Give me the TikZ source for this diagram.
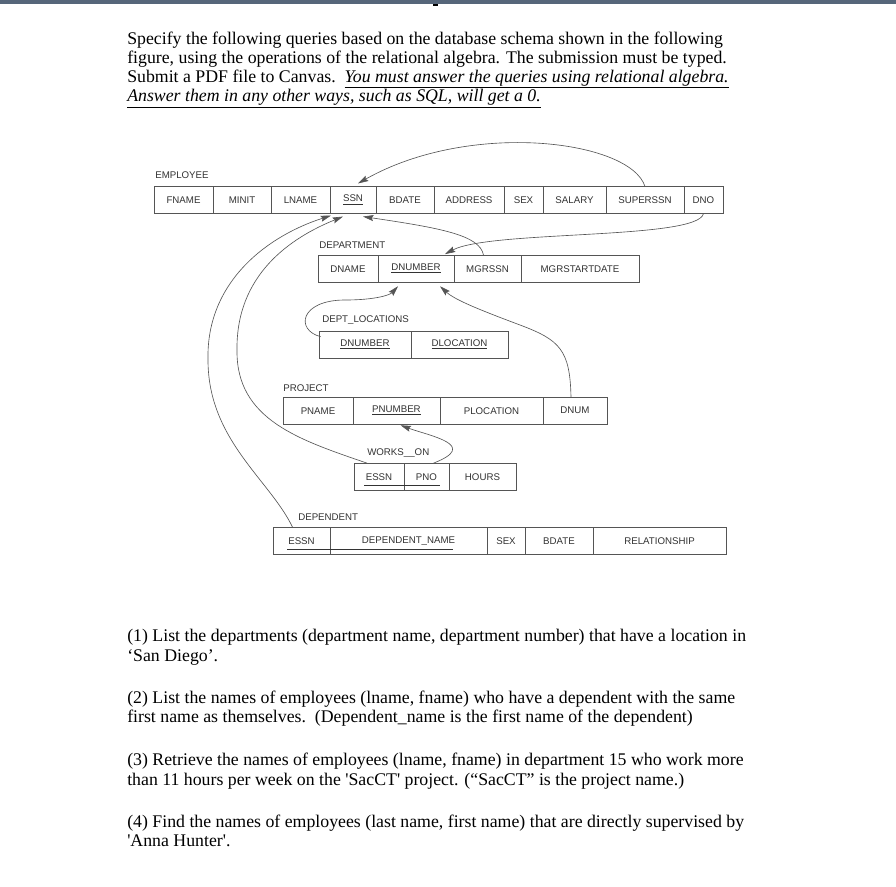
\documentclass[tikz,border=0pt]{standalone}
\usepackage{fontspec}
\setmainfont{Liberation Serif}
\newfontfamily\bodyfont{Liberation Serif}
\newfontfamily\schemafont{Liberation Sans}
\usetikzlibrary{arrows.meta, calc}
\definecolor{cbar}{HTML}{56667A}
\definecolor{cline}{HTML}{555555}
\definecolor{ctext}{HTML}{333333}
\tikzset{
  every picture/.style={x=0.25mm, y=-0.25mm},
  cell/.style={draw=cline, line width=0.5pt, minimum height=6.6mm, inner sep=0pt,
               text=ctext, font=\schemafont\fontsize{6.9}{8}\selectfont},
  relname/.style={anchor=west, inner sep=0pt, text=ctext, font=\schemafont\fontsize{6.9}{8}\selectfont},
  keyline/.style={draw=ctext, line width=0.4pt},
  fk/.style={draw=cline, line width=0.45pt, -{Stealth[length=2.6mm, width=1.5mm, inset=0.4mm]}},
  para/.style={anchor=base west, inner sep=0pt, font=\bodyfont\fontsize{12.65}{15}\selectfont},
}
\newcommand{\key}[1]{\underline{#1}}

\begin{document}
\begin{tikzpicture}
  \fill[white] (0,0) rectangle (896,887);
  \fill[cbar] (0,0) rectangle (896,4);
  \fill[black] (433,3.5) rectangle (438,6);

  % task text
  \node[para] (intro1) at (127,44) {Specify the following queries based on the database schema shown in the following};
  \node[para] (intro2) at (127,63) {figure, using the operations of the relational algebra. The submission must be typed.};
  \node[para] (intro3) at (127,82) {Submit a PDF file to Canvas.\ \ \underline{\textit{You must answer the queries using relational algebra.}}};
  \node[para] (intro4) at (127,101) {\underline{\textit{Answer them in any other ways, such as SQL, will get a 0.}}};

  % relation names
  \node[relname] (employee) at (155,175) {EMPLOYEE};
  \node[relname] (department) at (319,245) {DEPARTMENT};
  \node[relname] (deptloc) at (322,320) {DEPT\_LOCATIONS};
  \node[relname] (project) at (283,388) {PROJECT};
  \node[relname] (workson) at (367,453) {WORKS\_\_ON};
  \node[relname] (dependent) at (298,517) {DEPENDENT};

  % attribute cells: name, left, right, text
  \foreach \n/\a/\b/\t in {fname/154/213/FNAME, minit/213/271/MINIT, lname/271/330/LNAME,
      ssn/330/376/\key{SSN}, bdate/376/434/BDATE, address/434/504/ADDRESS, sex/504/543/SEX,
      salary/543/606/SALARY, superssn/606/684/SUPERSSN, dno/684/723/DNO}
    \node[cell, minimum width={(\b-\a)*0.25mm}] (e-\n) at ({(\a+\b)/2},200) {\t};
  \foreach \n/\a/\b/\t in {dname/318/378/DNAME, dnumber/378/454/\key{DNUMBER},
      mgrssn/454/521/MGRSSN, mgrstartdate/521/639/MGRSTARTDATE}
    \node[cell, minimum width={(\b-\a)*0.25mm}] (d-\n) at ({(\a+\b)/2},268.7) {\t};
  \foreach \n/\a/\b/\t in {dnumber/319/411/\key{DNUMBER}, dlocation/411/508/\key{DLOCATION}}
    \node[cell, minimum width={(\b-\a)*0.25mm}] (l-\n) at ({(\a+\b)/2},344.7) {\t};
  \foreach \n/\a/\b/\t in {pname/283/353/PNAME, pnumber/353/440/\key{PNUMBER},
      plocation/440/543/PLOCATION, dnum/543/607/DNUM}
    \node[cell, minimum width={(\b-\a)*0.25mm}] (p-\n) at ({(\a+\b)/2},410.7) {\t};
  \foreach \n/\a/\b/\t in {essn/354/404/ESSN, pno/404/449/PNO, hours/449/516/HOURS}
    \node[cell, minimum width={(\b-\a)*0.25mm}] (w-\n) at ({(\a+\b)/2},476.7) {\t};
  \foreach \n/\a/\b/\t in {essn/273/330/ESSN, depname/330/487/DEPENDENT\_NAME, sex/487/525/SEX,
      bdate/525/593/BDATE, relationship/593/726/RELATIONSHIP}
    \node[cell, minimum width={(\b-\a)*0.25mm}] (dp-\n) at ({(\a+\b)/2},540.7) {\t};

  % composite keys
  \draw[keyline] (364,485.5) -- (440,485.5);
  \draw[keyline] (287,549.5) -- (453,549.5);

  % foreign keys
  \draw[fk] (e-superssn.north) .. controls (630,140) and (470,120) .. ($(e-ssn.north)+(5,-3)$);
  \draw[fk] (e-dno.south) .. controls (698,240) and (490,230) .. ($(d-dnumber.north)+(29,-1)$);
  \draw[fk] ($(d-mgrssn.north)+(-4,0)$) .. controls (480,235) and (440,228) .. ($(e-ssn.south)+(10,3)$);
  \draw[fk] ($(w-essn.north)+(-12,0)$) .. controls (300,440) and (236,420) .. (237,350)
    .. controls (236,275) and (290,238) .. ($(e-ssn.south)+(-10,3)$);
  \draw[fk] ($(dp-essn.north)+(-9,0)$) .. controls (270,480) and (208,440) .. (208,360)
    .. controls (206,280) and (270,235) .. ($(e-ssn.south)+(-22,2)$);
  \draw[fk] ($(l-dnumber.west)+(2,-8)$) .. controls (295,330) and (300,300) .. (345,300)
    .. controls (375,300) and (390,295) .. ($(d-dnumber.south)+(-18,4)$);
  \draw[fk] ($(p-dnum.north)+(-4,0)$) .. controls (570,350) and (560,340) .. (520,325)
    .. controls (480,310) and (455,300) .. ($(d-dnumber.south)+(24,4)$);
  \draw[fk] ($(w-pno.north)+(7,0)$) .. controls (480,445) and (430,436) .. ($(p-pnumber.south)+(4,1)$);

  % queries
  \node[para] (q1a) at (127,641) {(1) List the departments (department name, department number) that have a location in};
  \node[para] (q1b) at (127,661) {‘San Diego’.};
  \node[para] (q2a) at (127,703) {(2) List the names of employees (lname, fname) who have a dependent with the same};
  \node[para] (q2b) at (127,722) {first name as themselves.\ \ (Dependent\_name is the first name of the dependent)};
  \node[para] (q3a) at (127,765) {(3) Retrieve the names of employees (lname, fname) in department 15 who work more};
  \node[para] (q3b) at (127,785) {than 11 hours per week on the 'SacCT' project. (“SacCT” is the project name.)};
  \node[para] (q4a) at (127,827) {(4) Find the names of employees (last name, first name) that are directly supervised by};
  \node[para] (q4b) at (127,846) {'Anna Hunter'.};
\end{tikzpicture}
\end{document}
